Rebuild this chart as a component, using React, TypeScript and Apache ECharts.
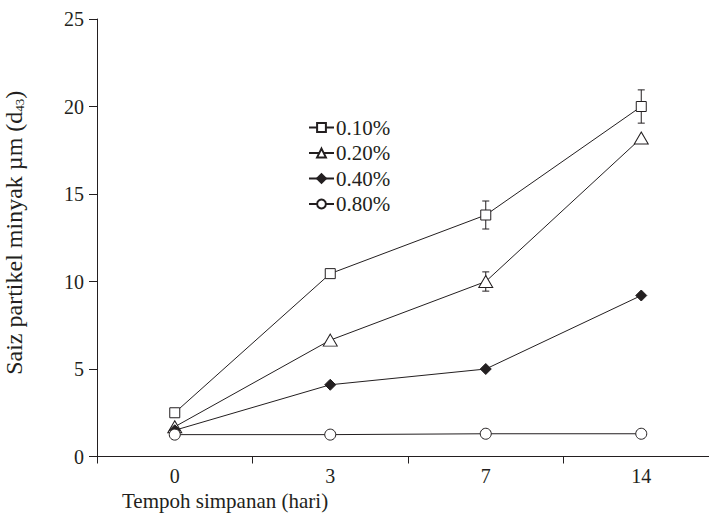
import React, { useEffect, useRef } from 'react';
import * as echarts from 'echarts';

const categories = ['0', '3', '7', '14'];
const seriesNames = ['0.10%', '0.20%', '0.40%', '0.80%'];
const s010 = [2.5, 10.45, 13.8, 20.0];
const s020 = [1.7, 6.65, 10.0, 18.2];
const s040 = [1.5, 4.1, 5.0, 9.2];
const s080 = [1.25, 1.25, 1.3, 1.3];
const err010 = [0, 0, 0.8, 0.95];
const err020 = [0, 0, 0.55, 0];
const yMin = 0;
const yMax = 25;
const yStep = 5;

const FONT = '"Liberation Serif", "DejaVu Serif", serif';
const INK = '#231f20';

export default function App() {
  const ref = useRef<HTMLDivElement>(null);
  useEffect(() => {
    if (!ref.current) return;
    const chart = echarts.init(ref.current, undefined, { renderer: 'svg' });

    const errData: number[][] = [];
    [
      [s010, err010],
      [s020, err020],
    ].forEach(([vals, errs]) => {
      vals.forEach((v, i) => {
        if (errs[i] > 0) errData.push([i, v, errs[i]]);
      });
    });

    const mk = (name: string, data: number[], symbol: string, size: any, fill: string) => ({
      name,
      type: 'line',
      data,
      symbol,
      symbolSize: size,
      showAllSymbol: true,
      z: 3,
      lineStyle: { color: INK, width: 1 },
      itemStyle: { color: fill, borderColor: INK, borderWidth: 1 },
      emphasis: { disabled: true },
    });

    chart.setOption({
      animation: false,
      title: {
        text: 'Tempoh simpanan (hari)',
        left: 122,
        top: 490,
        padding: 0,
        textStyle: { fontFamily: FONT, fontSize: 21, fontWeight: 'normal', color: INK },
      },
      legend: {
        data: seriesNames,
        orient: 'vertical',
        left: 308,
        top: 117,
        padding: 0,
        itemWidth: 25,
        itemHeight: 11,
        itemGap: 4.5,
        textStyle: { fontFamily: FONT, fontSize: 21, color: INK, padding: [0, 0, 0, -3] },
      },
      grid: { left: 97, top: 19, width: 622, height: 437.5, outerBoundsMode: 'none', containLabel: false },
      xAxis: {
        type: 'category',
        data: categories,
        boundaryGap: true,
        axisLine: { lineStyle: { color: INK, width: 1 } },
        axisTick: { show: true, length: 7, lineStyle: { color: INK } },
        axisLabel: { fontFamily: FONT, fontSize: 20, color: INK, margin: 9 },
        splitLine: { show: false },
      },
      yAxis: {
        type: 'value',
        min: yMin,
        max: yMax,
        interval: yStep,
        name: 'Saiz partikel minyak µm (d{sub|43})',
        nameLocation: 'middle',
        nameRotate: 90,
        nameGap: 71,
        nameTextStyle: {
          fontFamily: FONT,
          fontSize: 24,
          color: INK,
          padding: [0, 0, 0, 10],
          rich: {
            sub: { fontFamily: FONT, fontSize: 13, color: INK, verticalAlign: 'bottom', padding: [9, 0, 0, 0] },
          },
        },
        axisLine: { show: true, lineStyle: { color: INK, width: 1 } },
        axisTick: { show: true, length: 8, lineStyle: { color: INK } },
        axisLabel: { fontFamily: FONT, fontSize: 20, color: INK, margin: 13 },
        splitLine: { show: false },
      },
      series: [
        {
          type: 'custom',
          name: 'err',
          data: errData,
          z: 2,
          silent: true,
          renderItem: (params: any, api: any) => {
            const x = api.value(0);
            const v = api.value(1);
            const e = api.value(2);
            const top = api.coord([x, v + e]);
            const bot = api.coord([x, v - e]);
            const w = 3.5;
            const st = { stroke: INK, lineWidth: 1 };
            return {
              type: 'group',
              children: [
                { type: 'line', shape: { x1: top[0], y1: top[1], x2: bot[0], y2: bot[1] }, style: st },
                { type: 'line', shape: { x1: top[0] - w, y1: top[1], x2: top[0] + w, y2: top[1] }, style: st },
                { type: 'line', shape: { x1: bot[0] - w, y1: bot[1], x2: bot[0] + w, y2: bot[1] }, style: st },
              ],
            };
          },
        },
        mk(seriesNames[0], s010, 'rect', 10, '#fff'),
        mk(seriesNames[1], s020, 'triangle', [14, 12], '#fff'),
        mk(seriesNames[2], s040, 'diamond', 11, INK),
        mk(seriesNames[3], s080, 'circle', 11, '#fff'),
      ],
    });
    return () => chart.dispose();
  }, []);
  return <div ref={ref} style={{ width: 709, height: 519, position: 'absolute', left: 0, top: 0 }} />;
}
